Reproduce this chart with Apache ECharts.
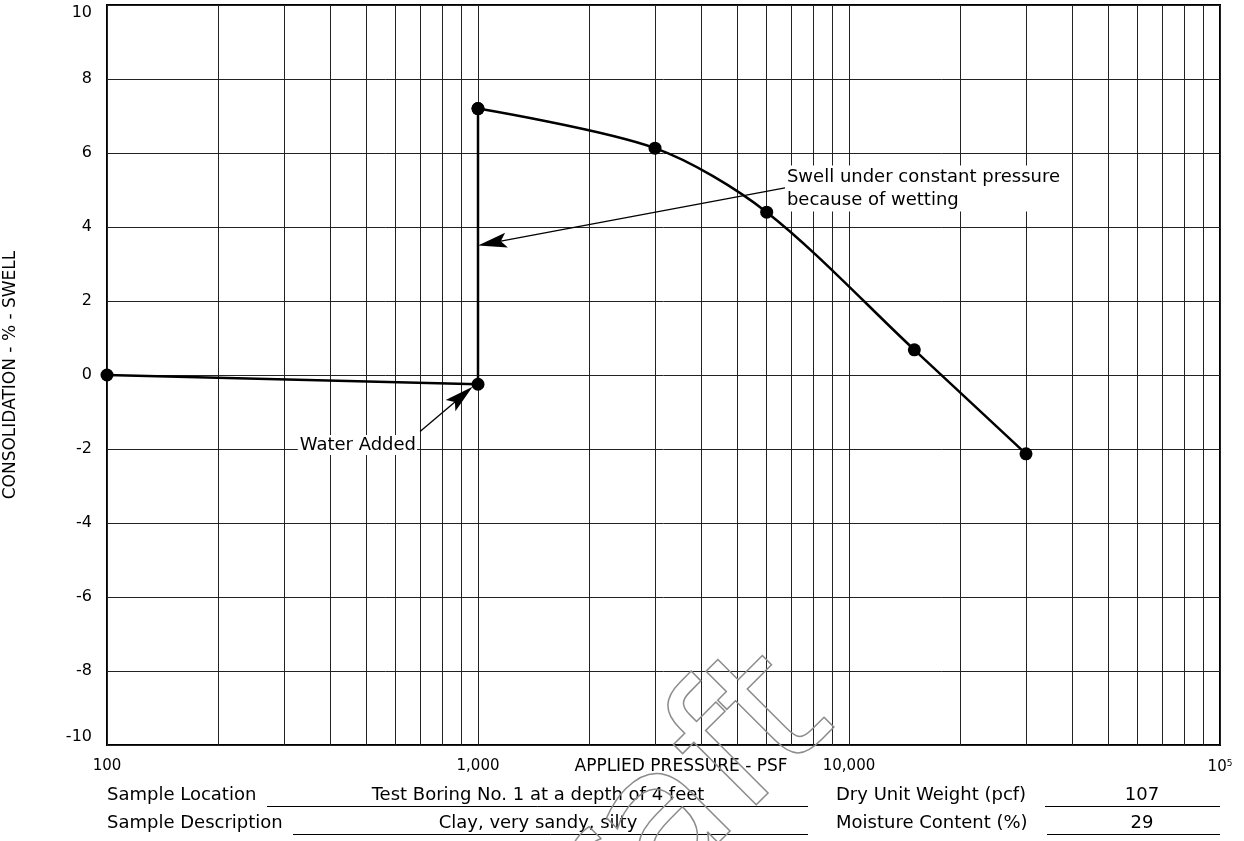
<!DOCTYPE html>
<html>
<head>
<meta charset="utf-8">
<script src="https://cdn.jsdelivr.net/npm/echarts@6/dist/echarts.min.js"></script>
<style>
html,body{margin:0;padding:0;background:#fff;}
#chart{width:1244px;height:841px;}
</style>
</head>
<body>
<div id="chart"></div>
<script>
// ---- data ----
var loadPath = [[100, 0], [1000, -0.25], [1000, 7.2]];
var reboundPath = [[1000, 7.2], [3000, 6.13], [6000, 4.4], [15000, 0.68], [30000, -2.13]];
var minorX = [200,300,400,500,600,700,800,900,2000,3000,4000,5000,6000,7000,8000,9000,20000,30000,40000,50000,60000,70000,80000,90000];
var xTicks = {100: '100', 1000: '1,000', 10000: '10,000', 100000: '{b|10}{sup|5}'};
var xAxisTitle = 'APPLIED PRESSURE - PSF';
var yAxisTitle = 'CONSOLIDATION - % - SWELL';
var swellNote = {text: 'Swell under constant pressure\nbecause of wetting', at: [6761, 5.04], arrowFrom: [6722, 5.06], arrowTo: [1000, 3.5]};
var waterNote = {text: 'Water Added', at: [685, -1.89], arrowFrom: [698, -1.53], arrowTo: [967, -0.32]};
var infoRows = [
  {label: 'Sample Location', value: 'Test Boring No. 1 at a depth of 4 feet', label2: 'Dry Unit Weight (pcf)', value2: '107'},
  {label: 'Sample Description', value: 'Clay, very sandy, silty', label2: 'Moisture Content (%)', value2: '29'}
];
var watermarkText = 'draft';

var FONT = 'DejaVu Sans';
var chart = echarts.init(document.getElementById('chart'), null, {renderer: 'canvas'});

var graphics = [];
var rowY = [795, 823];
var valStart = [267, 293];
var val2Start = [1045, 1047];
infoRows.forEach(function (r, i) {
  var y = rowY[i];
  var ly = Math.round(y + 11) + 0.5;
  graphics.push({type: 'text', x: 107, y: y, style: {text: r.label, font: '18px ' + FONT, fill: '#000', textAlign: 'left', textVerticalAlign: 'middle'}});
  graphics.push({type: 'text', x: 538, y: y, style: {text: r.value, font: '18px ' + FONT, fill: '#000', textAlign: 'center', textVerticalAlign: 'middle'}});
  graphics.push({type: 'line', shape: {x1: valStart[i], y1: ly, x2: 808, y2: ly}, style: {stroke: '#000', lineWidth: 1}});
  graphics.push({type: 'text', x: 836, y: y, style: {text: r.label2, font: '18px ' + FONT, fill: '#000', textAlign: 'left', textVerticalAlign: 'middle'}});
  graphics.push({type: 'text', x: 1142, y: y, style: {text: r.value2, font: '18px ' + FONT, fill: '#000', textAlign: 'center', textVerticalAlign: 'middle'}});
  graphics.push({type: 'line', shape: {x1: val2Start[i], y1: ly, x2: 1220, y2: ly}, style: {stroke: '#000', lineWidth: 1}});
});
graphics.push({type: 'text', x: 681, y: 767, style: {text: xAxisTitle, font: '17px ' + FONT, fill: '#000', textAlign: 'center', textVerticalAlign: 'middle'}});

var option = {
  backgroundColor: '#fff',
  animation: false,
  textStyle: {fontFamily: FONT},
  grid: {left: 107, right: 24, top: 5, bottom: 96, containLabel: false, outerBoundsMode: 'none',
    show: true, borderColor: '#000', borderWidth: 2, backgroundColor: 'transparent'},
  xAxis: {
    type: 'log', logBase: 10, min: 100, max: 100000,
    axisLine: {show: false}, axisTick: {show: false},
    splitLine: {show: true, lineStyle: {color: '#222', width: 1}},
    axisLabel: {
      margin: 14, color: '#000', fontSize: 15, fontFamily: FONT,
      formatter: function (v) { return xTicks[Math.round(v)] || ''; },
      rich: {b: {fontSize: 15, fontFamily: FONT, color: '#000'}, sup: {fontSize: 9, fontFamily: FONT, color: '#000', verticalAlign: 'top', padding: [0, 0, 8, 0]}}
    }
  },
  yAxis: {
    type: 'value', min: -10, max: 10, interval: 2,
    name: yAxisTitle, nameLocation: 'middle', nameGap: 88,
    nameTextStyle: {fontSize: 17, color: '#000', fontFamily: FONT},
    axisLine: {show: false}, axisTick: {show: false},
    splitLine: {show: true, lineStyle: {color: '#222', width: 1}},
    axisLabel: {margin: 15, color: '#000', fontSize: 16, fontFamily: FONT,
      verticalAlignMaxLabel: 'top', verticalAlignMinLabel: 'bottom'}
  },
  series: [
    {
      type: 'line', data: [], silent: true, z: 1,
      markLine: {
        silent: true, symbol: ['none', 'none'], animation: false,
        label: {show: false},
        lineStyle: {color: '#222', width: 1, type: 'solid'},
        data: minorX.map(function (v) { return {xAxis: v}; })
      }
    },
    {
      type: 'line', data: loadPath, z: 5,
      symbol: 'circle', symbolSize: 13,
      lineStyle: {color: '#000', width: 2.5}, itemStyle: {color: '#000'}
    },
    {
      type: 'line', data: reboundPath, smooth: 0.3, z: 5,
      symbol: 'circle', symbolSize: 13,
      lineStyle: {color: '#000', width: 2.5}, itemStyle: {color: '#000'}
    },
    {
      type: 'line', data: [], silent: true, z: 6,
      markPoint: {
        silent: true, animation: false, symbol: 'circle', symbolSize: 0,
        data: [
          {coord: swellNote.at, label: {show: true, position: 'inside', formatter: swellNote.text, align: 'left', verticalAlign: 'middle', fontSize: 18, lineHeight: 23, color: '#000', fontFamily: FONT, backgroundColor: '#fff', padding: [0, 2, 0, 1]}},
          {coord: waterNote.at, label: {show: true, position: 'inside', formatter: waterNote.text, align: 'right', verticalAlign: 'middle', fontSize: 18, color: '#000', fontFamily: FONT, backgroundColor: '#fff', padding: [1, 1, 1, 2]}}
        ]
      }
    }
  ]
};
chart.setOption(option);

// arrows placed through the chart's own scales
function arrow(fromC, toC) {
  var F = chart.convertToPixel({gridIndex: 0}, fromC);
  var T = chart.convertToPixel({gridIndex: 0}, toC);
  var dx = T[0] - F[0], dy = T[1] - F[1];
  var len = Math.sqrt(dx * dx + dy * dy);
  var ux = dx / len, uy = dy / len, nx = -uy, ny = ux;
  var L = 29, W = 7.5, notch = 0.8;
  var B = [T[0] - L * ux, T[1] - L * uy];
  var N = [T[0] - L * notch * ux, T[1] - L * notch * uy];
  return [
    {type: 'line', z: 50, shape: {x1: F[0], y1: F[1], x2: N[0], y2: N[1]}, style: {stroke: '#000', lineWidth: 1.3}},
    {type: 'polygon', z: 50, shape: {points: [T, [B[0] + W * nx, B[1] + W * ny], N, [B[0] - W * nx, B[1] - W * ny]]}, style: {fill: '#000'}}
  ];
}
graphics = graphics.concat(arrow(swellNote.arrowFrom, swellNote.arrowTo), arrow(waterNote.arrowFrom, waterNote.arrowTo));
// draft watermark
graphics.push({type: 'text', x: 647, y: 846, rotation: Math.PI / 4, z: 100,
  style: {text: watermarkText, fontSize: 185, fontFamily: FONT, fill: 'none', stroke: '#8c8c8c', lineWidth: 1.5, textAlign: 'center', textVerticalAlign: 'middle'}});
chart.setOption({graphic: graphics});
</script>
</body>
</html>
